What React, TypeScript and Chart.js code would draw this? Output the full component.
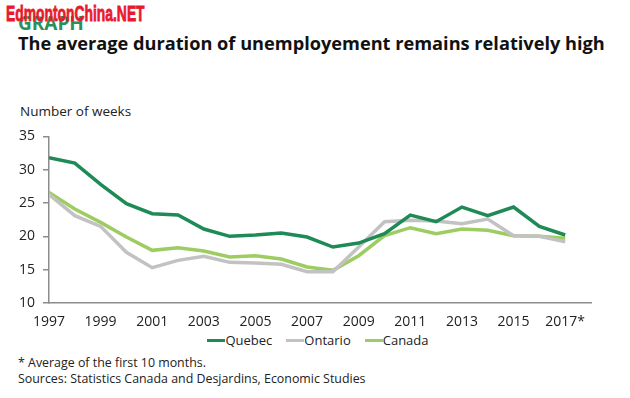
import React, { useEffect, useRef } from "react";
import { Chart, registerables } from "chart.js";

Chart.register(...registerables);

const years = [1997, 1998, 1999, 2000, 2001, 2002, 2003, 2004, 2005, 2006, 2007, 2008, 2009, 2010, 2011, 2012, 2013, 2014, 2015, 2016, 2017];
const quebec = [31.8, 31.0, 27.8, 24.9, 23.4, 23.2, 21.1, 20.0, 20.2, 20.5, 19.9, 18.4, 19.0, 20.4, 23.2, 22.2, 24.4, 23.1, 24.4, 21.5, 20.2];
const ontario = [26.3, 23.1, 21.5, 17.6, 15.3, 16.4, 17.0, 16.1, 16.0, 15.8, 14.7, 14.7, 18.4, 22.2, 22.4, 22.3, 21.9, 22.6, 20.1, 20.0, 19.2];
const canada = [26.6, 24.1, 22.1, 19.9, 17.9, 18.3, 17.8, 16.9, 17.1, 16.6, 15.4, 14.9, 17.1, 20.1, 21.3, 20.4, 21.1, 20.9, 20.1, 20.0, 19.7];
const xTickYears = [1997, 1999, 2001, 2003, 2005, 2007, 2009, 2011, 2013, 2015, 2017];
const seriesNames = ["Quebec", "Ontario", "Canada"];
const seriesColors = ["#1e8a55", "#c2c2c2", "#9dcd62"];

const FONT = "'Open Sans', 'Noto Sans', sans-serif";

export default function App() {
  const ref = useRef<HTMLCanvasElement | null>(null);

  useEffect(() => {
    if (!ref.current) return;
    const series = [quebec, ontario, canada];
    const chart = new Chart(ref.current, {
      type: "line",
      data: {
        datasets: series.map((s, i) => ({
          label: seriesNames[i],
          data: s.map((v, j) => ({ x: years[j], y: v })),
          borderColor: seriesColors[i],
          backgroundColor: seriesColors[i],
          borderWidth: 3.5,
          pointRadius: 0,
          tension: 0,
          fill: false,
        })),
      },
      options: {
        animation: false,
        responsive: false,
        maintainAspectRatio: false,
        layout: { padding: { top: 15, right: 39, bottom: 0, left: 0 } },
        plugins: { legend: { display: false }, tooltip: { enabled: false } },
        scales: {
          x: {
            type: "linear",
            min: 1997,
            max: 2018,
            afterBuildTicks: (scale: any) => {
              scale.ticks = xTickYears.map((v) => ({ value: v }));
            },
            afterFit: (scale: any) => {
              scale.height = 27;
            },
            grid: { display: false },
            border: { display: true, color: "#8c8c8c", width: 1.5 },
            ticks: {
              autoSkip: false,
              maxRotation: 0,
              padding: 3,
              color: "#222",
              font: { family: FONT, size: 14 },
              callback: (v: any) => (Number(v) === 2017 ? "2017*" : String(v)),
            },
          },
          y: {
            min: 10,
            max: 35,
            afterFit: (scale: any) => {
              scale.width = 49;
            },
            grid: { drawOnChartArea: false, drawTicks: true, tickLength: 6, color: "#8c8c8c", lineWidth: 1.5 },
            border: { display: true, color: "#8c8c8c", width: 1.5 },
            ticks: {
              stepSize: 5,
              padding: 8,
              color: "#222",
              font: { family: FONT, size: 14 },
            },
          },
        },
      },
    });
    return () => chart.destroy();
  }, []);

  return (
    <div style={{ position: "absolute", left: 0, top: 0, width: 630, height: 398, background: "#fff", fontFamily: FONT, color: "#222" }}>
      <div style={{ position: "absolute", left: 18, top: 12, fontSize: 19, fontWeight: 700, color: "#2a8f5c", lineHeight: "22px" }}>GRAPH</div>
      <div style={{ position: "absolute", left: 6, top: 2, fontSize: 22, fontWeight: 900, color: "#e8192c", fontFamily: "'Liberation Sans', Arial, sans-serif", lineHeight: "24px", whiteSpace: "nowrap", transform: "scaleX(0.63)", transformOrigin: "left top", WebkitTextStroke: "0.8px #e8192c" } as any}>EdmontonChina.NET</div>
      <div style={{ position: "absolute", left: 18, top: 32, fontSize: 18.2, fontWeight: 700, color: "#111", lineHeight: "22px", whiteSpace: "nowrap" }}>The average duration of unemployement remains relatively high</div>
      <div style={{ position: "absolute", left: 20, top: 102, fontSize: 13.5, color: "#222", lineHeight: "18px" }}>Number of weeks</div>
      <canvas ref={ref} width={630} height={210} style={{ position: "absolute", left: 0, top: 120, width: 630, height: 210 }} />
      <div style={{ position: "absolute", left: 0, top: 331, width: 630, display: "flex", justifyContent: "center", alignItems: "center", fontSize: 13, lineHeight: "18px", paddingLeft: 6, boxSizing: "border-box" }}>
        {seriesNames.map((n, i) => (
          <div key={n} style={{ display: "flex", alignItems: "center", marginRight: i < 2 ? 14 : 0 }}>
            <span style={{ display: "inline-block", width: 18, height: 3, background: seriesColors[i] }} />
            <span>{n}</span>
          </div>
        ))}
      </div>
      <div style={{ position: "absolute", left: 18, top: 355, fontSize: 12.4, lineHeight: "16px", whiteSpace: "nowrap" }}>* Average of the first 10 months.</div>
      <div style={{ position: "absolute", left: 18, top: 371, fontSize: 12.4, lineHeight: "16px", whiteSpace: "nowrap" }}>Sources: Statistics Canada and Desjardins, Economic Studies</div>
    </div>
  );
}
